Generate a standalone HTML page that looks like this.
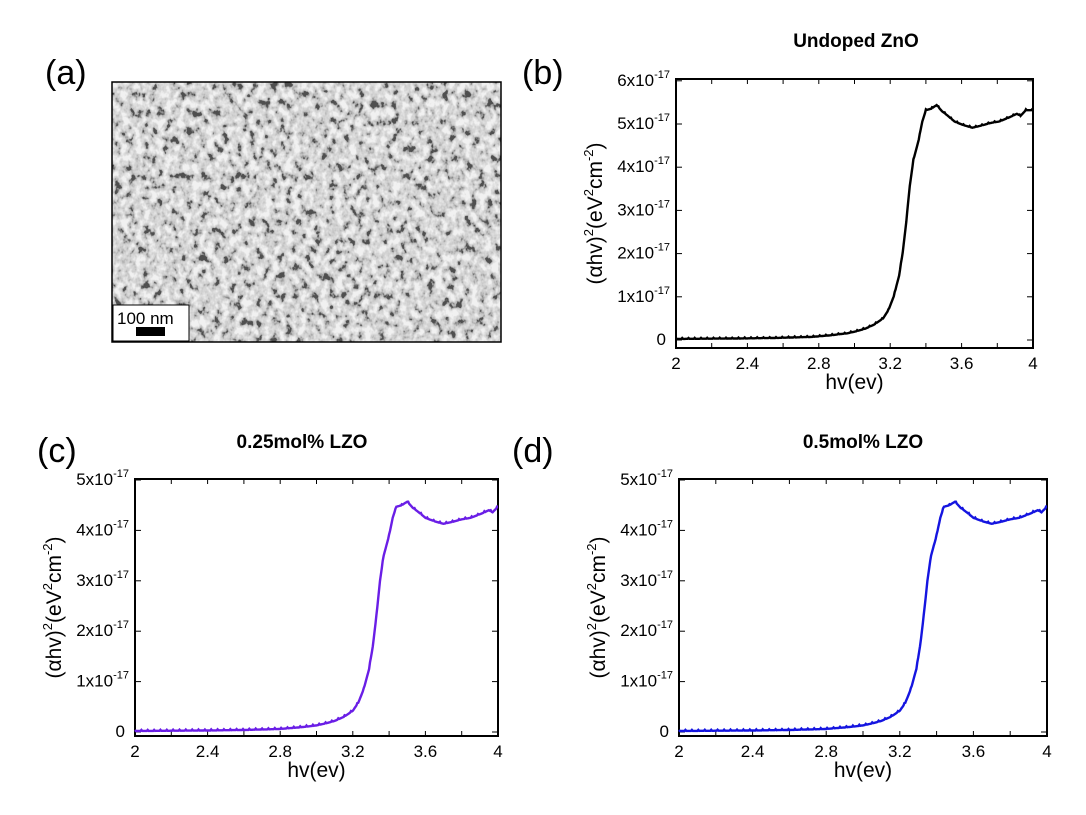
<!DOCTYPE html>
<html><head><meta charset="utf-8"><style>
html,body{margin:0;padding:0;background:#fff;}
svg text{font-family:"Liberation Sans",sans-serif;}
</style></head><body>
<svg id="s" width="1086" height="810" xmlns="http://www.w3.org/2000/svg">
<defs>
<filter id="sem" x="0" y="0" width="100%" height="100%">
<feTurbulence type="fractalNoise" baseFrequency="0.14 0.11" numOctaves="3" seed="7" result="n"/>
<feColorMatrix in="n" type="matrix" values="2.6 0 0 0 -0.75  2.6 0 0 0 -0.75  2.6 0 0 0 -0.75  0 0 0 0 1"/>
<feComponentTransfer><feFuncR type="table" tableValues="0.08 0.42 0.6 0.68 0.77 0.88"/><feFuncG type="table" tableValues="0.08 0.42 0.6 0.68 0.77 0.88"/><feFuncB type="table" tableValues="0.08 0.42 0.6 0.68 0.77 0.88"/></feComponentTransfer>
</filter>
</defs>
<text x="45" y="84" font-size="34">(a)</text>
<rect x="112" y="82" width="389" height="260" fill="#999" filter="url(#sem)"/>
<rect x="112" y="82" width="389" height="260" fill="none" stroke="#000" stroke-width="1.5"/>
<rect x="113" y="305" width="76" height="36" fill="#fff" stroke="#000" stroke-width="1"/>
<text x="117" y="324" font-size="17">100 nm</text>
<rect x="136" y="327" width="29" height="9" fill="#000"/>
<text x="522" y="84" font-size="34">(b)</text>
<text x="37" y="462" font-size="34">(c)</text>
<text x="512" y="462" font-size="34">(d)</text>
<g id="plots"></g>
</svg>
<script>
const pts=[[2,0.02],[2.4,0.03],[2.6,0.04],[2.8,0.06],[2.9,0.09],[3.0,0.13],[3.05,0.17],[3.1,0.22],[3.15,0.3],[3.2,0.42],[3.23,0.58],[3.26,0.85],[3.29,1.25],[3.31,1.7],[3.33,2.3],[3.35,3.0],[3.37,3.5],[3.4,3.9],[3.42,4.25],[3.44,4.47],[3.47,4.5],[3.5,4.57],[3.53,4.45],[3.56,4.37],[3.6,4.25],[3.65,4.18],[3.7,4.13],[3.75,4.17],[3.8,4.22],[3.85,4.25],[3.9,4.32],[3.95,4.4],[3.97,4.36],[4,4.47]];
function interp(x){for(let i=1;i<pts.length;i++){if(x<=pts[i][0]){const a=pts[i-1],b=pts[i];return a[1]+(b[1]-a[1])*(x-a[0])/(b[0]-a[0]);}}return pts[pts.length-1][1];}
const panels=[
 {x0:676,x1:1033,yt:79,yb:348,y0:340,per:43.2,ymax:6,col:"#000",title:"Undoped ZnO",tx:856,ty:47,scale:1.19,shift:-0.04},
 {x0:135,x1:498,yt:479,yb:736,y0:732,per:50.4,ymax:5,col:"#6a1ee6",title:"0.25mol% LZO",tx:302,ty:448,scale:1,shift:0},
 {x0:679,x1:1047,yt:479,yb:736,y0:732,per:50.4,ymax:5,col:"#1515e0",title:"0.5mol% LZO",tx:863,ty:448,scale:1,shift:0}];
let h="";
for(const p of panels){
 const W=p.x1-p.x0, X=v=>p.x0+(v-2)/2*W;
 h+=`<text x="${p.tx}" y="${p.ty}" font-size="19" font-weight="bold" text-anchor="middle">${p.title}</text>`;
 h+=`<rect x="${p.x0}" y="${p.yt}" width="${W}" height="${p.yb-p.yt}" fill="none" stroke="#000" stroke-width="2"/>`;
 for(let i=0;i<=10;i++){const x=p.x0+W*i/10;h+=`<line x1="${x}" y1="${p.yb}" x2="${x}" y2="${p.yb-5}" stroke="#000"/><line x1="${x}" y1="${p.yt}" x2="${x}" y2="${p.yt+5}" stroke="#000"/>`;}
 ["2","2.4","2.8","3.2","3.6","4"].forEach((l,i)=>{const x=p.x0+W*i/5;h+=`<text x="${x}" y="${p.yb+21}" font-size="17" text-anchor="middle">${l}</text>`;});
 h+=`<text x="${(p.x0+p.x1)/2}" y="${p.yb+41}" font-size="21" text-anchor="middle">hv(ev)</text>`;
 for(let k=0;k<=p.ymax;k++){const y=p.y0-k*p.per;
  h+=`<line x1="${p.x0}" y1="${y}" x2="${p.x0+6}" y2="${y}" stroke="#000"/><line x1="${p.x1}" y1="${y}" x2="${p.x1-6}" y2="${y}" stroke="#000"/>`;
  if(k==0)h+=`<text x="${p.x0-10}" y="${y+5}" font-size="17" text-anchor="end">0</text>`;
  else h+=`<text x="${p.x0-6}" y="${y+5}" font-size="17" text-anchor="end">${k}x10<tspan dy="-8" font-size="11">-17</tspan></text>`;}
 const cy=(p.yt+p.yb)/2, lx=p.x0-74;
 h+=`<text transform="translate(${lx},${cy}) rotate(-90)" font-size="21" text-anchor="middle">(αhv)<tspan dy="-9" font-size="13">2</tspan><tspan dy="9">(eV</tspan><tspan dy="-9" font-size="13">2</tspan><tspan dy="9">cm</tspan><tspan dy="-9" font-size="13">-2</tspan><tspan dy="9">)</tspan></text>`;
 let d="";
 for(let i=0;i<=400;i++){const x=2+i/200;const v=interp(Math.min(4,x-p.shift))*p.scale+(i%7==0?0.02:0);d+=(i?"L":"M")+X(x).toFixed(1)+" "+(p.y0-v*p.per).toFixed(1);}
 h+=`<path d="${d}" fill="none" stroke="${p.col}" stroke-width="2.4"/>`;
}
document.getElementById("plots").innerHTML=h;
</script>
</body></html>
